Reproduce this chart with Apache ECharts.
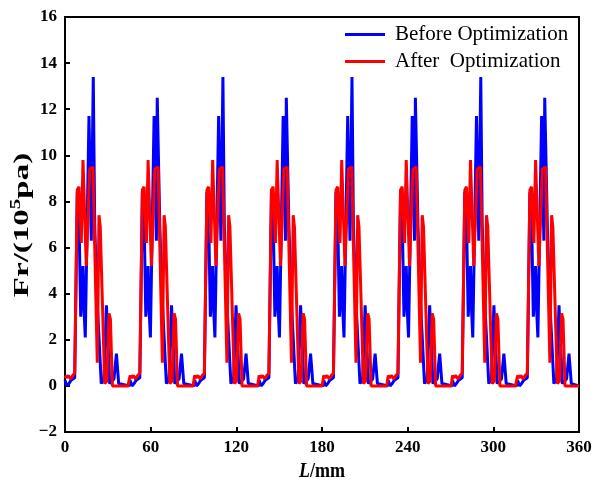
<!DOCTYPE html>
<html>
<head>
<meta charset="utf-8">
<script src="https://cdn.jsdelivr.net/npm/echarts@6/dist/echarts.min.js"></script>
<style>
html,body{margin:0;padding:0;background:#fff;}
#c{width:595px;height:491px;}
</style>
</head>
<body>
<div id="c"></div>
<script>
// ---- data ----
const xTicks = [0, 60, 120, 180, 240, 300, 360];
const yTicks = [-2, 0, 2, 4, 6, 8, 10, 12, 14, 16];
const seriesNames = ['Before Optimization', 'After  Optimization'];

// rise position (mm) of each of the 8 pressure pulses
const cycleStarts = [6.8, 52.4, 97.6, 142.8, 188.0, 233.2, 278.2, 323.8];
// tallest "before" peak in each pulse and its position inside the pulse
const beforePeaks = [13.4, 12.5, 13.4, 12.5, 13.4, 12.5, 13.4, 12.5];
const beforePeakPos = [13.0, 12.2, 13.0, 12.2, 13.0, 12.2, 13.0, 12.2];

// one pulse, position relative to its rise (mm); null = per-pulse peak
const beforeShapeX = [-6.8, -5.5, -4.0, -2.5, -1.2, 0.0, 1.8, 2.8, 4.2, 5.0, 5.8, 6.6, 7.4, 10.0, 11.6, null, 14.0, 15.5, 18.6, 20.5, 22.2, 24.5, 27.5, 29.2, 30.8, 38.1];
const beforeShapeY = [0.25, 0.0, 0.1, 0.25, 0.3, 0.35, 8.4, 8.0, 3.0, 4.0, 5.2, 3.2, 2.1, 11.7, 6.3, null, 7.0, 4.0, 0.1, 0.3, 3.5, 0.1, 0.3, 1.4, 0.1, 0.0];

const afterShapeX = [-6.8, -5.8, -4.5, -3.0, -1.5, 0.0, 1.8, 3.0, 4.6, 5.8, 8.1, 10.5, 12.8, 15.8, 17.0, 17.9, 21.0, 22.5, 24.0, 25.0, 26.4, 37.3];
const afterShapeY = [0.45, 0.35, 0.45, 0.3, 0.45, 0.55, 8.5, 8.64, 6.2, 9.8, 5.2, 9.4, 9.5, 1.0, 7.4, 6.9, 0.1, 0.2, 3.15, 2.9, 0.0, 0.0];

// ---- build point lists ----
function build(shapeX, shapeY, peaks, peakPos) {
  const pts = [];
  cycleStarts.forEach(function (s, k) {
    for (let i = 0; i < shapeX.length; i++) {
      const rx = shapeX[i] === null ? peakPos[k] : shapeX[i];
      const y = shapeY[i] === null ? peaks[k] : shapeY[i];
      const x = +(s + rx).toFixed(2);
      if (x >= 0 && x <= 360) pts.push([x, y]);
    }
  });
  pts.push([360, 0]);
  return pts;
}
const beforeData = build(beforeShapeX, beforeShapeY, beforePeaks, beforePeakPos);
const afterData = build(afterShapeX, afterShapeY, null, null);

const FONT = '"Liberation Serif", "Times New Roman", serif';

// y-axis title pieces, measured to place the superscript
const ctx = document.createElement('canvas').getContext('2d');
const TS = 33, SS = 21;
ctx.font = 'bold ' + TS + 'px ' + FONT;
const w1 = ctx.measureText('Fr/(10').width;
const w3 = ctx.measureText('pa)').width;
ctx.font = 'bold ' + SS + 'px ' + FONT;
const w2 = ctx.measureText('5').width;
const total = w1 + w2 + w3;
const x0 = -total / 2;

const chart = echarts.init(document.getElementById('c'), null, {renderer: 'canvas'});
chart.setOption({
  animation: false,
  backgroundColor: '#fff',
  grid: {left: 65, right: 16, top: 17, bottom: 59, show: true, borderColor: '#000', borderWidth: 2, backgroundColor: 'transparent'},
  legend: {
    data: seriesNames,
    orient: 'vertical',
    left: 345, top: 24, padding: 0,
    itemWidth: 40, itemHeight: 3, itemGap: 6,
    icon: 'rect',
    textStyle: {fontFamily: FONT, fontSize: 21, color: '#000', padding: [0, 0, 0, 5]}
  },
  xAxis: {
    type: 'value', min: xTicks[0], max: xTicks[xTicks.length - 1], interval: 60,
    axisLine: {show: true, onZero: false, lineStyle: {color: '#000', width: 2}},
    axisTick: {show: true, inside: true, length: 5, lineStyle: {color: '#000', width: 2}},
    axisLabel: {fontFamily: FONT, fontWeight: 'bold', fontSize: 17, color: '#000', margin: 7},
    splitLine: {show: false}
  },
  yAxis: {
    type: 'value', min: yTicks[0], max: yTicks[yTicks.length - 1], interval: 2,
    axisLine: {show: true, onZero: false, lineStyle: {color: '#000', width: 2}},
    axisTick: {show: true, inside: true, length: 5, lineStyle: {color: '#000', width: 2}},
    axisLabel: {fontFamily: FONT, fontWeight: 'bold', fontSize: 17, color: '#000', margin: 8,
      formatter: function (v) { return v < 0 ? '\u2212' + Math.abs(v) : String(v); }},
    splitLine: {show: false}
  },
  graphic: [
    {type: 'text', x: 322, y: 472, scaleX: 0.9, style: {
      text: '{i|L}{b|/mm}', align: 'center', verticalAlign: 'middle',
      rich: {i: {fontFamily: FONT, fontWeight: 'bold', fontStyle: 'italic', fontSize: 20, fill: '#000'},
             b: {fontFamily: FONT, fontWeight: 'bold', fontSize: 20, fill: '#000'}}
    }},
    {type: 'group', x: 22, y: 225, rotation: Math.PI / 2, scaleY: 0.66, children: [
      {type: 'text', x: x0, y: 0, style: {text: 'Fr/(10', font: 'bold ' + TS + 'px ' + FONT, fill: '#000', verticalAlign: 'middle', align: 'left'}},
      {type: 'text', x: x0 + w1, y: -9, style: {text: '5', font: 'bold ' + SS + 'px ' + FONT, fill: '#000', verticalAlign: 'middle', align: 'left'}},
      {type: 'text', x: x0 + w1 + w2, y: 0, style: {text: 'pa)', font: 'bold ' + TS + 'px ' + FONT, fill: '#000', verticalAlign: 'middle', align: 'left'}}
    ]}
  ],
  series: [
    {name: seriesNames[0], type: 'line', data: beforeData, showSymbol: false, symbol: 'none',
     lineStyle: {color: '#0000ff', width: 3}, itemStyle: {color: '#0000ff'}, z: 2},
    {name: seriesNames[1], type: 'line', data: afterData, showSymbol: false, symbol: 'none',
     lineStyle: {color: '#ff0000', width: 3}, itemStyle: {color: '#ff0000'}, z: 3}
  ]
});
</script>
</body>
</html>
